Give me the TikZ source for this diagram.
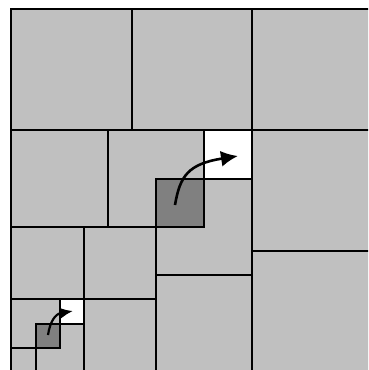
\documentclass[tikz,border=0pt]{standalone}
\usetikzlibrary{arrows.meta}
\definecolor{lightcell}{HTML}{C0C0C0}
\definecolor{darkcell}{HTML}{808080}
\tikzset{
  grid line/.style={line width=2.2pt, line cap=rect},
  move arrow/.style={line width=2.6pt, -{Latex[length=17pt,width=16pt]}},
  small arrow/.style={line width=2.2pt, -{Latex[length=13pt,width=11pt]}},
}
\begin{document}
\begin{tikzpicture}[x=1pt,y=-1pt]
\useasboundingbox (0,0) rectangle (368,370);
\begin{scope}
\clip (0,0) rectangle (368,370);
% background
\fill[lightcell] (11,9) rectangle (370,372);
\fill[white] (204,130) rectangle (252,179);
\fill[darkcell] (156,179) rectangle (204,227);
\fill[white] (60,299) rectangle (84,324);
\fill[darkcell] (36,324) rectangle (60,348);
% outer
\draw[grid line] (11,372) -- (11,9) -- (372,9);
% level 1
\draw[grid line] (132,9) -- (132,130);
\draw[grid line] (252,9) -- (252,372);
\draw[grid line] (11,130) -- (372,130);
\draw[grid line] (252,251) -- (372,251);
% level 2
\draw[grid line] (108,130) -- (108,227);
\draw[grid line] (204,130) -- (204,227);
\draw[grid line] (156,179) -- (252,179);
\draw[grid line] (11,227) -- (204,227);
\draw[grid line] (156,179) -- (156,372);
\draw[grid line] (156,275) -- (252,275);
% level 3
\draw[grid line] (84,227) -- (84,372);
\draw[grid line] (11,299) -- (156,299);
\draw[grid line] (60,299) -- (60,348);
\draw[grid line] (36,324) -- (84,324);
\draw[grid line] (11,348) -- (60,348);
\draw[grid line] (36,324) -- (36,372);
\end{scope}
% arrows
\coordinate (bigstart) at (175,205);
\coordinate (bigend) at (238,156);
\coordinate (smallstart) at (48,335);
\coordinate (smallend) at (73,311);
\draw[move arrow] (bigstart) .. controls (180,176) and (188,164) .. (bigend);
\draw[small arrow] (smallstart) .. controls (50,322) and (55,314) .. (smallend);
\end{tikzpicture}
\end{document}
